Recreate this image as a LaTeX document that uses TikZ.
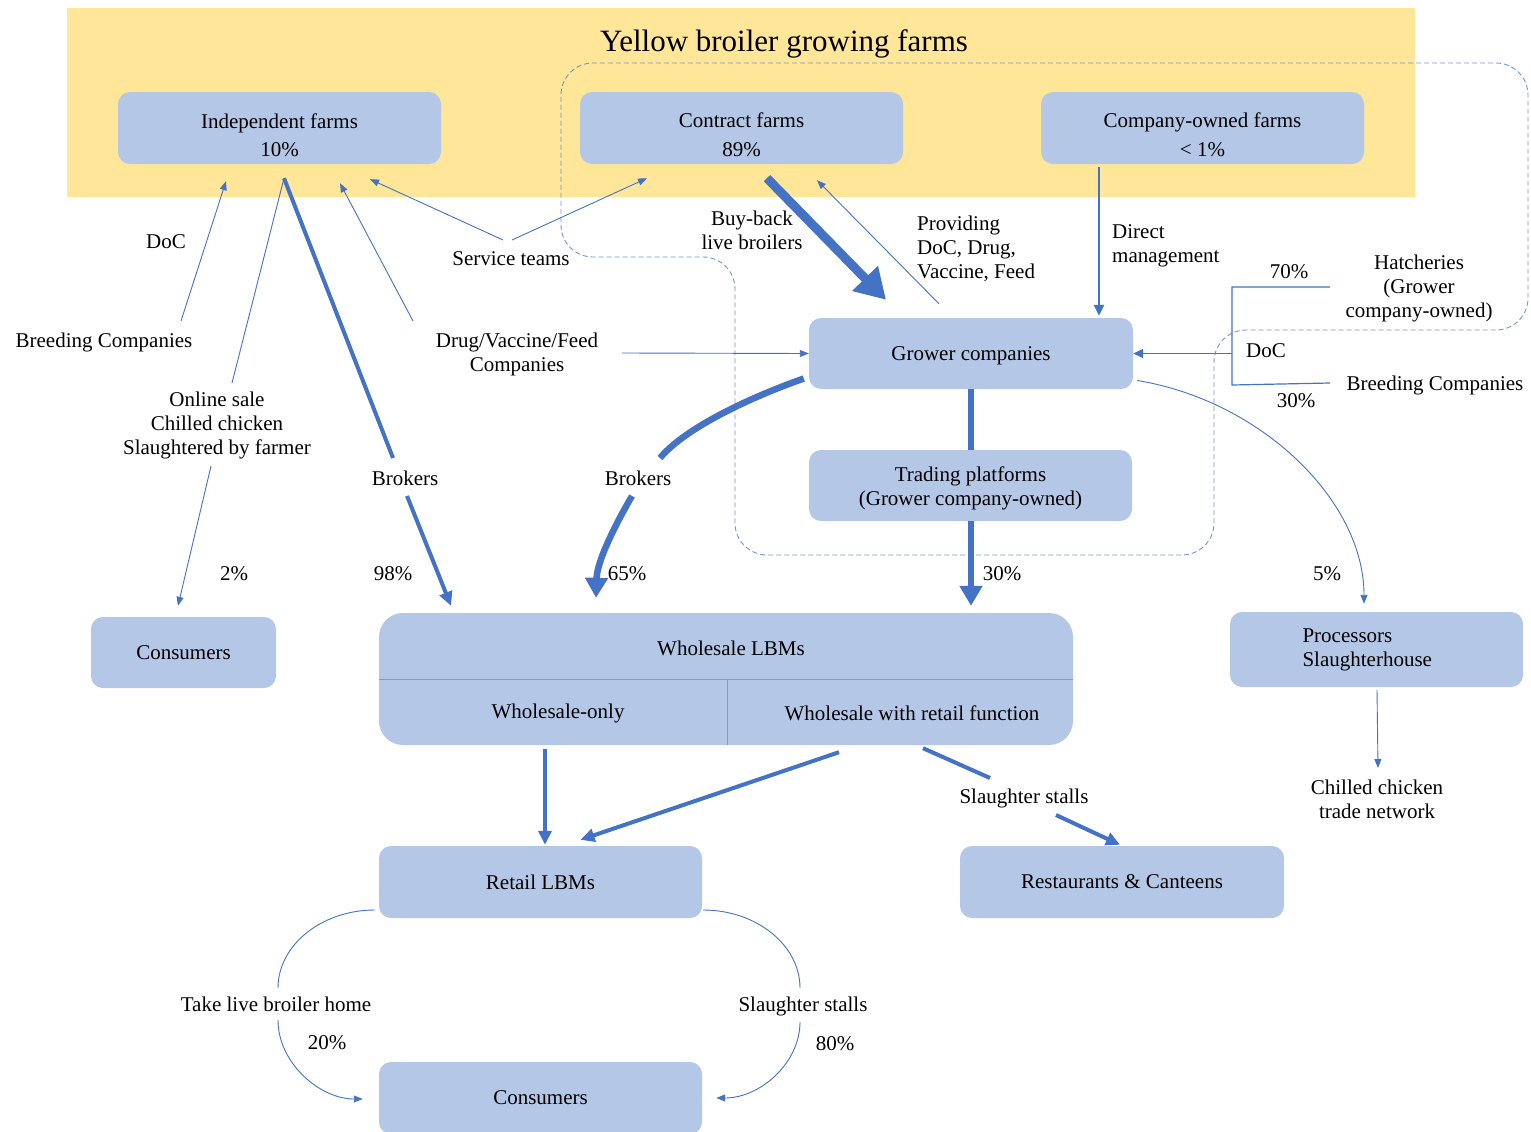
\documentclass[tikz,border=0pt]{standalone}
\usepackage{fontspec}
\setmainfont{Liberation Serif}
\usetikzlibrary{arrows.meta,calc}
\definecolor{bandyellow}{RGB}{255,230,153}
\definecolor{boxblue}{RGB}{180,199,231}
\definecolor{lineblue}{RGB}{68,114,196}
\definecolor{dashblue}{RGB}{112,150,210}
\definecolor{divblue}{RGB}{122,155,213}
\begin{document}
\begin{tikzpicture}[x=1pt,y=-1pt, every node/.style={font=\fontsize{21}{24}\selectfont},
  farmbox/.style={fill=boxblue,rounded corners=12pt,minimum width=323pt,minimum height=72pt,align=center,inner sep=2pt},
  topbox/.style={farmbox,text height=58pt},
  lbl/.style={align=center,inner sep=1pt,yshift=-1pt},
  tline/.style={lineblue,line width=0.9pt},
  tarr/.style={tline,-{Triangle[length=9pt,width=7pt]}},
  marr/.style={lineblue,line width=2.6pt,-{Triangle[length=11pt,width=10pt]}},
  kline/.style={lineblue,line width=4pt},
  karr/.style={kline,-{Triangle[length=14pt,width=13pt]}},
  fatline/.style={lineblue,line width=6.5pt},
  fatarr/.style={fatline,-{Triangle[length=20pt,width=22pt]}}]
\useasboundingbox (0,0) rectangle (1531,1132);
\fill[bandyellow] (67,8) rectangle (1415,197);
\node[font=\fontsize{31}{36}\selectfont] (title) at (784,44) {Yellow broiler growing farms};
\draw[dashblue,line width=0.9pt,dash pattern=on 5pt off 3pt,rounded corners=32pt]
  (800,63) -- (1528,63) -- (1528,330) -- (1214,330) -- (1214,555) -- (735,555) -- (735,257) -- (561,257) -- (561,63) -- cycle;
\node[topbox] (indep) at (279.5,128) {Independent farms\\[4pt]10\%};
\node[topbox] (contract) at (741.5,128) {Contract farms\\[5pt]89\%};
\node[topbox] (owned) at (1202.5,128) {Company-owned farms\\[5pt]< 1\%};
\node[farmbox,minimum width=324pt,minimum height=71pt,text height=19pt] (grower) at (971,353.5) {Grower companies};
\node[farmbox,minimum height=71pt,text height=45pt] (trading) at (970.5,485.5) {Trading platforms\\(Grower company-owned)};
\node[farmbox,minimum width=185pt,minimum height=71pt] (cons1) at (183.5,652.5) {Consumers};
\node[farmbox,minimum width=694pt,minimum height=132pt,rounded corners=24pt] (whole) at (726,679) {};
\node[farmbox,minimum width=293pt,minimum height=75pt,align=left,text width=148pt] (proc) at (1376.5,649.5) {Processors\\Slaughterhouse};
\node[farmbox] (retail) at (540.5,882) {Retail LBMs};
\node[farmbox,minimum width=324pt] (rest) at (1122,882) {Restaurants \& Canteens};
\node[farmbox] (cons2) at (540.5,1098) {Consumers};
\draw[divblue,line width=1pt] (whole.west) -- (whole.east) ($(whole.center)+(1,0)$) -- ($(whole.south)+(1,0)$);
\node (wtop) at (731,648) {Wholesale LBMs};
\node (wonly) at (558,713) {Wholesale-only};
\node (wret) at (912,713) {Wholesale with retail function};
\node[lbl] (doc1) at (166,241) {DoC};
\node[lbl] (breed1) at (104,341) {Breeding Companies};
\node[lbl] (online) at (217,424) {Online sale\\Chilled chicken\\Slaughtered by farmer};
\node[lbl] (brk1) at (405,477) {Brokers};
\node[lbl] (brk2) at (638,477) {Brokers};
\node[lbl] (svc) at (511,258) {Service teams};
\node[lbl] (dvf) at (517,353) {Drug/Vaccine/Feed\\Companies};
\node[lbl] (buyback) at (752,229) {Buy-back\\live broilers};
\node[lbl,anchor=west,align=left] (provide) at (916,248) {Providing\\DoC, Drug,\\Vaccine, Feed};
\node[lbl,anchor=west,align=left] (direct) at (1111,245) {Direct\\management};
\node[lbl] (hatch) at (1419,287) {Hatcheries\\(Grower\\company-owned)};
\node[lbl] (doc2) at (1266,350) {DoC};
\node[lbl] (breed2) at (1435,384) {Breeding Companies};
\node[lbl] (chilled) at (1377,798) {Chilled chicken\\trade network};
\node[lbl] (stall1) at (1024,797) {Slaughter stalls};
\node[lbl] (takehome) at (276,1003) {Take live broiler home};
\node[lbl] (stall2) at (803,1005) {Slaughter stalls};
\foreach \px/\py/\pv [count=\i] in {1289/271/70,1296/400/30,234/573/2,393/573/98,627/573/65,1002/573/30,1327/573/5,327/1042/20,835/1043/80}
  \node[lbl] (pct\i) at (\px,\py) {\pv\%};
\draw[tarr] ($(breed1.center)+(77,-21)$) -- ($(indep.south)+(-53.5,17)$);
\draw[tline] ($(online.center)+(15,-42)$) -- ($(indep.south)+(4.5,14)$);
\draw[tarr] ($(online.center)+(-6,41)$) -- ($(cons1.north)+(-5.5,-11)$);
\draw[kline] ($(indep.south)+(4.5,14)$) -- ($(brk1.center)+(-12,-20)$);
\draw[karr] ($(brk1.center)+(2,18)$) -- ($(whole.north)+(-275,-7)$);
\draw[tarr] ($(dvf.center)+(-104,-33)$) -- ($(indep.south)+(60.5,19)$);
\draw[tarr] ($(svc.center)+(-8,-19)$) -- ($(indep.south)+(90.5,15)$);
\draw[tarr] ($(svc.center)+(1,-19)$) -- ($(contract.south)+(-94.5,14)$);
\draw[tarr] ($(dvf.center)+(105,-1)$) -- (grower.west);
\draw[lineblue,line width=9pt,-{Triangle[length=30pt,width=34pt]}] ($(contract.south)+(25.5,14)$) -- ($(grower.north)+(-85,-18)$);
\draw[tarr] ($(grower.north)+(-32,-14)$) -- ($(contract.south)+(75.5,16)$);
\draw[marr] ($(owned.south)+(-103.5,3)$) -- ($(grower.north)+(128,-2)$);
\draw[lineblue,line width=1.2pt] ($(hatch.center)+(-89,-1)$) -| ($(breed2.center)+(-203,0)$) -- ($(breed2.center)+(-105,-2)$);
\draw[lineblue,line width=1.2pt,-{Triangle[length=10pt,width=9pt]}] ($(doc2.center)+(-34,2.5)$) -- (grower.east);
\draw[tarr] ($(grower.east)+(4,27)$) .. controls +(123,20) and +(0,-104) .. ($(proc.north)+(-12.5,-8)$);
\draw[fatline] (grower.south) -- ($(trading.north)+(0.5,0)$);
\draw[fatarr] ($(trading.south)+(0.5,0)$) -- ($(whole.north)+(245,-7)$);
\draw[fatline] ($(grower.west)+(-5,25)$) .. controls +(-54,19) and +(25,-30) .. ($(brk2.center)+(22,-20)$);
\draw[fatarr] ($(brk2.center)+(-6,18)$) .. controls +(-14,24) and +(1,-38) .. ($(whole.north)+(-130,-15)$);
\draw[karr] ($(whole.south)+(-181,4)$) -- ($(retail.north)+(4.5,-1)$);
\draw[karr] ($(whole.south)+(113,7)$) -- ($(retail.north)+(40,-6)$);
\draw[kline] ($(whole.south)+(197,3)$) -- ($(stall1.center)+(-34,-20)$);
\draw[karr] ($(stall1.center)+(32,17)$) -- ($(rest.north)+(-2,-1)$);
\draw[tarr] ($(proc.south)+(0.5,3)$) -- ($(chilled.center)+(1,-31)$);
\draw[tline] ($(retail.west)+(-4,28)$) .. controls +(-53,0) and +(0,-43) .. ($(takehome.center)+(2,-16)$);
\draw[tarr] ($(takehome.center)+(2,16)$) .. controls +(0,43) and +(-43,0) .. ($(cons2.west)+(-16,1)$);
\draw[tline] ($(retail.east)+(1,28)$) .. controls +(53,0) and +(0,-43) .. ($(stall2.center)+(-3,-18)$);
\draw[tarr] ($(stall2.center)+(-3,16)$) .. controls +(0,41) and +(44,0) .. ($(cons2.east)+(14,0)$);
\end{tikzpicture}
\end{document}
